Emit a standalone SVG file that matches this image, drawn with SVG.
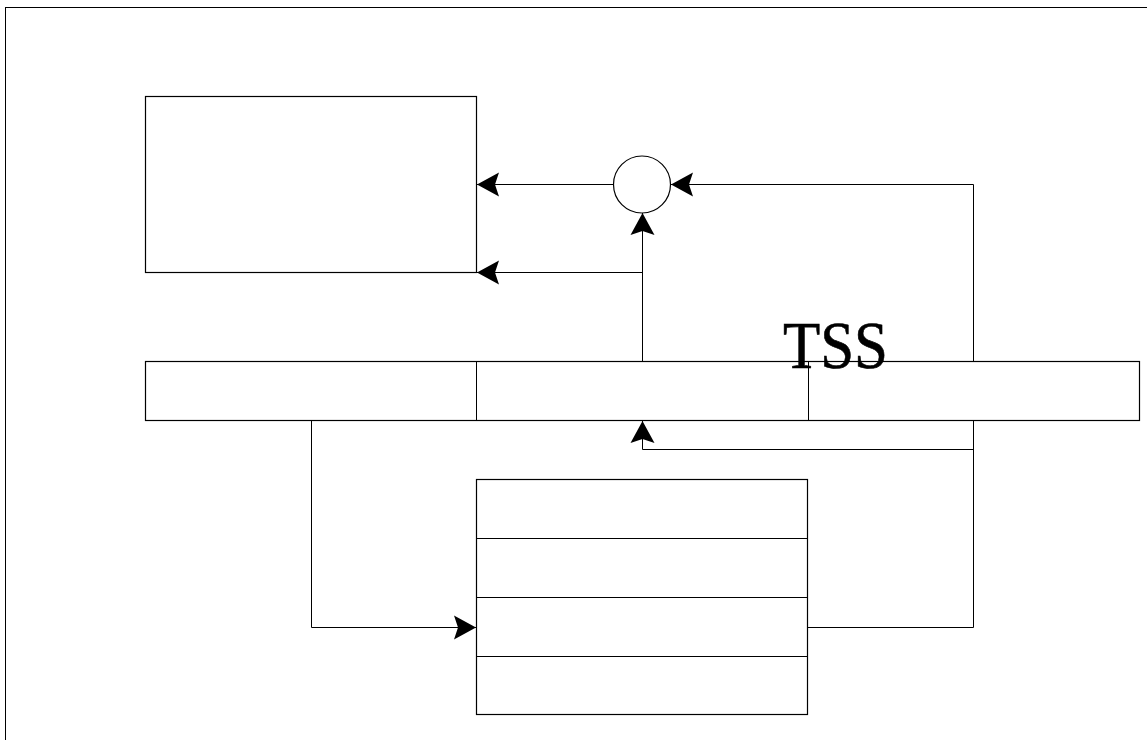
<svg xmlns="http://www.w3.org/2000/svg" width="1147" height="740" viewBox="0 0 1147 740">
<style>
.box{fill:#fff;stroke:#000;stroke-width:1.2}
.ln{fill:none;stroke:#000;stroke-width:1}
</style>
<defs>
<marker id="ah" markerUnits="userSpaceOnUse" markerWidth="30" markerHeight="30" viewBox="-26 -15 30 30" refX="0" refY="0" orient="auto">
<path d="M0,0 L-22,-12 L-18,0 L-22,12 Z" fill="#000"/>
</marker>
</defs>
<rect x="5.5" y="7.5" width="1160" height="760" fill="none" stroke="#000" stroke-width="1"/>
<g id="connectors">
<path class="ln" d="M973.5,184.5 L973.5,627.5 L808,627.5"/>
<path class="ln" d="M973.5,184.5 L671,184.5" marker-end="url(#ah)"/>
<path class="ln" d="M614,184.5 L477,184.5" marker-end="url(#ah)"/>
<path class="ln" d="M642.5,361 L642.5,213" marker-end="url(#ah)"/>
<path class="ln" d="M642.5,272.5 L477,272.5" marker-end="url(#ah)"/>
<path class="ln" d="M973.5,449.5 L642.5,449.5 L642.5,421" marker-end="url(#ah)"/>
<path class="ln" d="M311.5,421 L311.5,627.5 L476,627.5" marker-end="url(#ah)"/>
</g>
<g id="top-box">
<rect class="box" x="145.5" y="96.5" width="331" height="176"/>
</g>
<g id="sum">
<circle class="box" cx="642" cy="184.5" r="28.5" stroke-width="1"/>
</g>
<g id="bar">
<rect class="box" x="145.5" y="361.5" width="994" height="59"/>
<line class="ln" x1="476.5" y1="361.5" x2="476.5" y2="420.5"/>
<line class="ln" x1="808.5" y1="361.5" x2="808.5" y2="420.5"/>
</g>
<g id="tss">
<text x="783" y="368" font-family="Liberation Serif, Times New Roman, serif" font-size="68" fill="#000" stroke="#000" stroke-width="0.6" textLength="105" lengthAdjust="spacingAndGlyphs">TSS</text>
</g>
<g id="stack">
<rect class="box" x="476.5" y="479.5" width="331" height="235"/>
<line class="ln" x1="476.5" y1="538.5" x2="807.5" y2="538.5"/>
<line class="ln" x1="476.5" y1="597.5" x2="807.5" y2="597.5"/>
<line class="ln" x1="476.5" y1="656.5" x2="807.5" y2="656.5"/>
</g>
</svg>
